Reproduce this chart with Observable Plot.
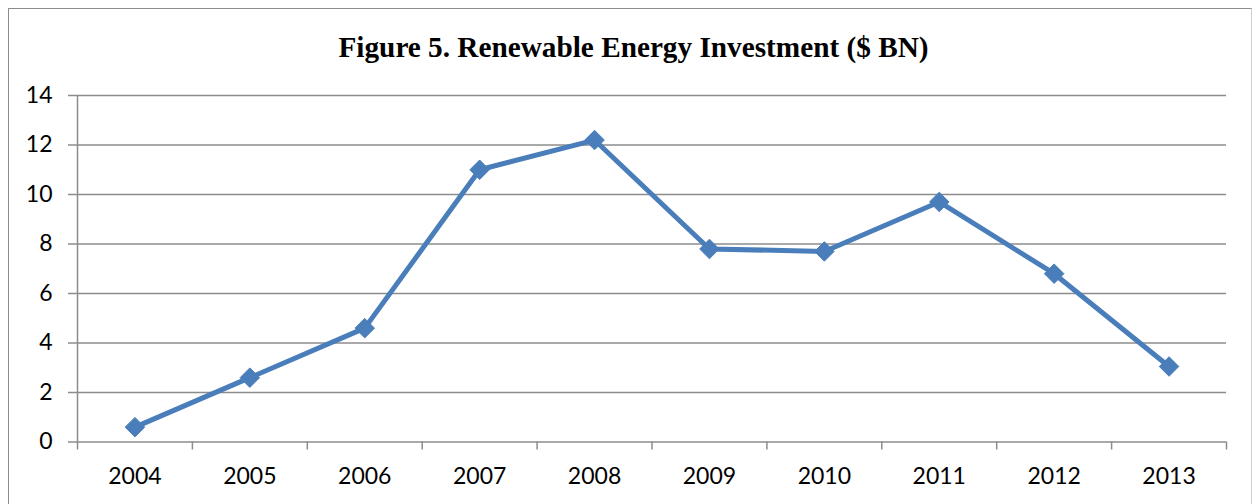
<!DOCTYPE html>
<html>
<head>
<meta charset="utf-8">
<script src="https://cdn.jsdelivr.net/npm/d3@7"></script>
<script src="https://cdn.jsdelivr.net/npm/@observablehq/plot@0.6"></script>
<style>
  html, body { margin: 0; padding: 0; background: #fff; }
  #wrap { position: relative; width: 1255px; height: 504px; overflow: hidden; }
  #border { position: absolute; left: 8px; top: 8px; width: 1244px; height: 520px; border: 1px solid #8c8c8c; border-right-color: #d0d0d0; box-sizing: border-box; pointer-events: none; }
</style>
</head>
<body>
<div id="wrap"><div id="border"></div></div>
<script>
const title = "Figure 5. Renewable Energy Investment ($ BN)";
const years = [2004, 2005, 2006, 2007, 2008, 2009, 2010, 2011, 2012, 2013];
const investment = [0.6, 2.6, 4.6, 11.0, 12.2, 7.8, 7.7, 9.7, 6.8, 3.05];
const yTicks = [0, 2, 4, 6, 8, 10, 12, 14];
const bandEdges = [2003.5, 2004.5, 2005.5, 2006.5, 2007.5, 2008.5, 2009.5, 2010.5, 2011.5, 2012.5, 2013.5];

const data = years.map((y, i) => ({year: y, value: investment[i]}));
const gridColor = "#8c8c8c";
const lineColor = "#4a7ebb";

const chart = Plot.plot({
  width: 1255,
  height: 504,
  marginLeft: 77,
  marginRight: 29,
  marginTop: 95,
  marginBottom: 62.5,
  style: {fontFamily: "Lato, 'Open Sans', sans-serif", fontSize: "23px", color: "#000", background: "transparent", overflow: "visible"},
  x: {type: "linear", domain: [2003.5, 2013.5]},
  y: {domain: [0, 14]},
  marks: [
    Plot.ruleY(yTicks.filter(d => d > 0), {stroke: gridColor, strokeWidth: 1.5, strokeOpacity: 1}),
    Plot.axisY(yTicks, {tickSize: 9, tickPadding: 16, stroke: gridColor, strokeWidth: 1.5, strokeOpacity: 1, label: null, fill: "#000"}),
    Plot.ruleX([2003.5], {stroke: gridColor, strokeWidth: 1.5}),
    Plot.ruleY([0], {stroke: gridColor, strokeWidth: 1.5}),
    Plot.axisX(bandEdges, {tickSize: 8, tickFormat: () => "", stroke: gridColor, strokeWidth: 1.5, strokeOpacity: 1, label: null}),
    Plot.axisX(years, {tickSize: 0, tickPadding: 26, tickFormat: d => String(d), label: null, fill: "#000"}),
    Plot.lineY(data, {x: "year", y: "value", stroke: lineColor, strokeWidth: 5, strokeLinejoin: "miter"}),
    Plot.dot(data, {x: "year", y: "value", symbol: "diamond2", r: 8.8, fill: lineColor, stroke: lineColor, strokeWidth: 1}),
    Plot.text([title], {frameAnchor: "top", dx: 633 - 651.5, dy: -38.3, lineAnchor: "bottom", fontFamily: "'Liberation Serif', 'Times New Roman', serif", fontWeight: "bold", fontSize: 29, fill: "#000", className: "fig-title"})
  ]
});
document.getElementById("wrap").prepend(chart);
const t = chart.querySelector(".fig-title text");
if (t) { t.setAttribute("textLength", "590"); t.setAttribute("lengthAdjust", "spacingAndGlyphs"); }
</script>
</body>
</html>
